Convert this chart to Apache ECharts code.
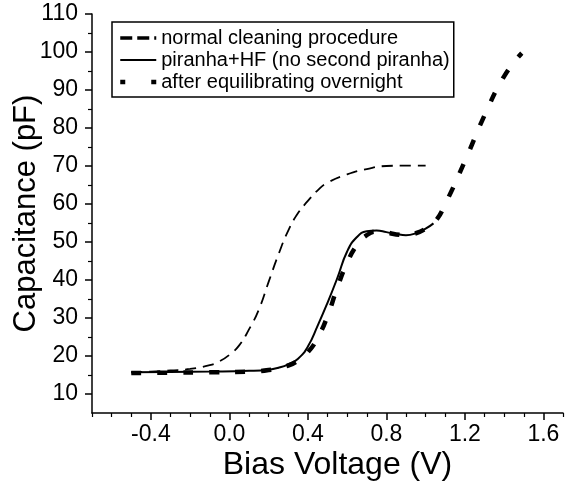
<!DOCTYPE html>
<html>
<head>
    <meta charset="utf-8"/>
    <style>
        html, body {
            height: 100%;
            margin: 0;
            padding: 0;
            background: #ffffff;
        }

        .container {
            width: 566px;
            height: 488px;
        }
    </style>
</head>
<body>
<div id="main" class="container"></div>
<script src="https://cdn.jsdelivr.net/npm/echarts@6/dist/echarts.min.js"></script>
<script type="text/javascript">
    // 数据
    var normalV = [-0.5, -0.4, -0.3, -0.2, -0.1, -0.05, 0, 0.05, 0.1, 0.15, 0.2, 0.25, 0.3, 0.35, 0.4, 0.45, 0.5, 0.6, 0.7, 0.8, 0.9, 1.0];
    var normalC = [15.7, 15.9, 16.2, 16.6, 17.6, 18.6, 20.3, 22.8, 27, 32.2, 39.5, 46.7, 53, 57.6, 60.8, 63.6, 65.6, 67.8, 69.2, 70, 70.1, 70.1];

    var piranhaV = [-0.5, -0.3, -0.1, 0.1, 0.2, 0.25, 0.3, 0.35, 0.4, 0.45, 0.5, 0.55, 0.6, 0.65, 0.7, 0.75, 0.8, 0.85, 0.9, 0.95, 1.0, 1.04];
    var piranhaC = [15.7, 15.8, 15.9, 16.1, 16.4, 16.9, 17.8, 19.3, 22.5, 28, 34, 40.5, 47.5, 51.3, 52.8, 53, 52.6, 52.1, 51.8, 52.3, 53.5, 54.9];

    var overnightV = [-0.5, -0.3, -0.1, 0.1, 0.2, 0.3, 0.35, 0.4, 0.45, 0.5, 0.55, 0.6, 0.65, 0.7, 0.75, 0.8, 0.85, 0.9, 0.95, 1.0, 1.05, 1.1, 1.2, 1.3, 1.4, 1.49];
    var overnightC = [15.5, 15.6, 15.7, 15.9, 16.3, 17.5, 18.8, 21, 24.8, 30.5, 38, 44.5, 49.2, 51.8, 52.7, 52.5, 52, 51.8, 52.3, 53.5, 55.5, 60, 71.3, 83.3, 93.6, 99.7];

    // 刻度
    var xMajor = [-0.4, 0, 0.4, 0.8, 1.2, 1.6];
    var xMinor = [-0.7, -0.6, -0.5, -0.3, -0.2, -0.1, 0.1, 0.2, 0.3, 0.5, 0.6, 0.7, 0.9, 1.0, 1.1, 1.3, 1.4, 1.5, 1.7];
    var yMajor = [10, 20, 30, 40, 50, 60, 70, 80, 90, 100, 110];
    var yMinor = [15, 25, 35, 45, 55, 65, 75, 85, 95, 105];

    function pairs(xs, ys) {
        var out = [];
        for (var i = 0; i < xs.length; i++) {
            out.push([xs[i], ys[i]]);
        }
        return out;
    }

    var font = 'Liberation Sans';
    var myChart = echarts.init(document.getElementById('main'));

    var option = {
        animation: false,
        textStyle: {fontFamily: font, color: '#000'},
        grid: {left: 92, right: 3, top: 14, bottom: 75, outerBoundsMode: 'none', containLabel: false},
        legend: {
            left: 112,
            top: 22,
            orient: 'vertical',
            borderColor: '#000',
            borderWidth: 1.5,
            borderRadius: 0,
            padding: [6, 4, 5, 6],
            itemGap: 2,
            itemWidth: 36,
            itemHeight: 14,
            selectedMode: false,
            itemStyle: {opacity: 0},
            textStyle: {fontFamily: font, fontSize: 20, color: '#000', lineHeight: 20},
            data: [
                {name: 'normal cleaning procedure', lineStyle: {width: 3.5, type: [12, 5]}},
                {name: 'piranha+HF (no second piranha)', lineStyle: {width: 2}},
                {name: 'after equilibrating overnight', lineStyle: {width: 4.5, type: [5, 26]}}
            ]
        },
        xAxis: [{
            type: 'value',
            min: -0.7,
            max: 1.7,
            position: 'bottom',
            name: 'Bias Voltage (V)',
            nameLocation: 'middle',
            nameGap: 36,
            nameMoveOverlap: false,
            nameTextStyle: {fontFamily: font, fontSize: 32, color: '#000', padding: [0, 0, 0, 20]},
            axisLine: {show: true, onZero: false, lineStyle: {color: '#000', width: 1.5}},
            axisTick: {show: true, length: 7, customValues: xMajor, lineStyle: {color: '#000', width: 1.5}},
            axisLabel: {
                customValues: xMajor,
                margin: 10,
                fontSize: 23,
                color: '#000',
                fontFamily: font,
                formatter: function (v) { return v.toFixed(1); }
            },
            splitLine: {show: false}
        }, {
            type: 'value',
            min: -0.7,
            max: 1.7,
            position: 'bottom',
            axisLine: {show: false, onZero: false},
            axisTick: {show: true, length: 4, customValues: xMinor, lineStyle: {color: '#000', width: 1.2}},
            axisLabel: {show: false},
            splitLine: {show: false}
        }],
        yAxis: [{
            type: 'value',
            min: 5,
            max: 110,
            position: 'left',
            name: 'Capacitance (pF)',
            nameLocation: 'middle',
            nameGap: 50,
            nameMoveOverlap: false,
            nameTextStyle: {fontFamily: font, fontSize: 31, color: '#000'},
            axisLine: {show: true, onZero: false, lineStyle: {color: '#000', width: 1.5}},
            axisTick: {show: true, length: 7, customValues: yMajor, lineStyle: {color: '#000', width: 1.5}},
            axisLabel: {
                customValues: yMajor,
                margin: 14,
                fontSize: 23,
                color: '#000',
                fontFamily: font
            },
            splitLine: {show: false}
        }, {
            type: 'value',
            min: 5,
            max: 110,
            position: 'left',
            axisLine: {show: false, onZero: false},
            axisTick: {show: true, length: 4, customValues: yMinor, lineStyle: {color: '#000', width: 1.2}},
            axisLabel: {show: false},
            splitLine: {show: false}
        }],
        series: [{
            name: 'normal cleaning procedure',
            type: 'line',
            smooth: true,
            symbol: 'none',
            color: '#000',
            lineStyle: {color: '#000', width: 1.8, type: [11, 7]},
            data: pairs(normalV, normalC)
        }, {
            name: 'piranha+HF (no second piranha)',
            type: 'line',
            smooth: true,
            symbol: 'none',
            color: '#000',
            lineStyle: {color: '#000', width: 2},
            data: pairs(piranhaV, piranhaC)
        }, {
            name: 'after equilibrating overnight',
            type: 'line',
            smooth: true,
            symbol: 'none',
            color: '#000',
            lineStyle: {color: '#000', width: 4.5, type: [10, 16]},
            data: pairs(overnightV, overnightC)
        }]
    };

    myChart.setOption(option);
</script>
</body>
</html>
